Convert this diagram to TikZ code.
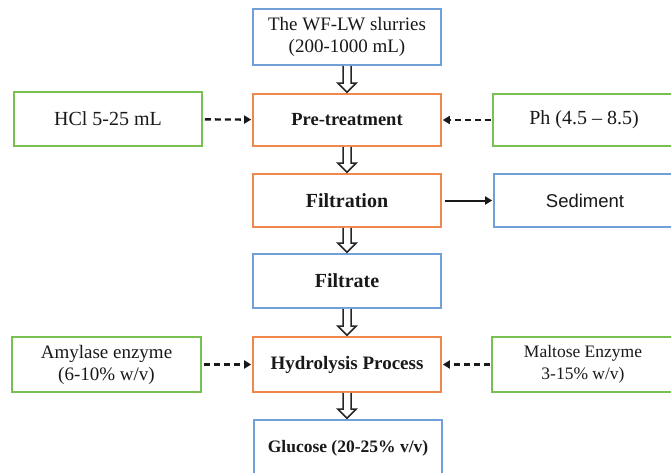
\documentclass[tikz,border=0pt]{standalone}
\usepackage{fontspec}
\setmainfont{Liberation Serif}
\newfontfamily\arialfont{Liberation Sans}
\usetikzlibrary{arrows.meta,calc}
\definecolor{boxblue}{RGB}{112,160,218}
\definecolor{boxorange}{RGB}{240,135,75}
\definecolor{boxgreen}{RGB}{120,192,82}
\newcommand\fsz[1]{\fontsize{#1}{22}\selectfont}
\tikzset{
  box/.style={draw, line width=1.6pt, minimum width=188pt, minimum height=54pt, inner sep=0pt, align=center, text=black!90, font=\fsz{18}},
  bluebox/.style={box, draw=boxblue},
  orangebox/.style={box, draw=boxorange},
  greenbox/.style={box, draw=boxgreen},
  holl/.style={line width=1.5pt, line join=miter, fill=white, draw=black!85},
  dasharrow/.style={line width=2.4pt, draw=black!90, dash pattern=on 6pt off 4pt, -{Triangle[length=7pt,width=8pt]}},
  solidarrow/.style={line width=2pt, draw=black!90, -{Triangle[length=7pt,width=8pt]}}
}
\newcommand\hollowarrow[2]{\draw[holl] let \p1=(#1.south), \p2=(#2.north) in
  (\x1-4pt,\y1) -- (\x1-4pt,\y2+10pt) -- (\x1-9pt,\y2+10pt) -- (\x1,\y2+1pt)
  -- (\x1+9pt,\y2+10pt) -- (\x1+4pt,\y2+10pt) -- (\x1+4pt,\y1);}
\begin{document}
\begin{tikzpicture}[x=1pt,y=-1pt]
\useasboundingbox (0,0) rectangle (671,473);
\fill[white] (0,0) rectangle (671,473);
\node[bluebox, minimum height=56pt, font=\fsz{19}] (top) at (347,37) {The WF-LW slurries\\(200-1000 mL)};
\node[orangebox, minimum height=52pt, font=\fsz{18.5}\bfseries] (pre) at (347,120) {Pre-treatment};
\node[greenbox, minimum height=54pt, font=\fsz{20}] (hcl) at (108,119) {HCl 5-25 mL};
\node[greenbox, minimum width=182pt, minimum height=52pt, font=\fsz{20}] (ph) at (584,120) {Ph (4.5 – 8.5)};
\node[orangebox, minimum height=53pt, font=\fsz{20}\bfseries] (filt) at (347,200.5) {Filtration};
\node[bluebox, minimum width=182pt, minimum height=53pt, font=\arialfont\fsz{18.5}] (sed) at (585,200.5) {Sediment};
\node[bluebox, minimum height=54pt, font=\fsz{20}\bfseries] (filtrate) at (347,281) {Filtrate};
\node[orangebox, minimum height=55pt, font=\fsz{19}\bfseries] (hyd) at (347,364.5) {Hydrolysis Process};
\node[greenbox, minimum width=189pt, minimum height=55pt, font=\fsz{19}] (amy) at (106.5,364.5) {Amylase enzyme\\(6-10\% w/v)};
\node[greenbox, minimum width=182pt, minimum height=55pt, font=\fsz{17.5}] (mal) at (583,364.5) {Maltose Enzyme\\3-15\% w/v)};
\node[bluebox, minimum height=56pt, font=\fsz{17.5}\bfseries] (glu) at (348,448) {Glucose (20-25\% v/v)};
\hollowarrow{top}{pre}
\hollowarrow{pre}{filt}
\hollowarrow{filt}{filtrate}
\hollowarrow{filtrate}{hyd}
\hollowarrow{hyd}{glu}
\draw[dasharrow, shorten <=2pt, shorten >=1pt] (hcl) -- (pre);
\draw[dasharrow, shorten <=1pt, shorten >=1pt] (ph) -- (pre);
\draw[dasharrow, shorten <=2pt, shorten >=1pt] (amy) -- (hyd);
\draw[dasharrow, shorten <=1pt, shorten >=1pt] (mal) -- (hyd);
\draw[solidarrow, shorten <=3pt, shorten >=1pt] (filt) -- (sed);
\end{tikzpicture}
\end{document}
